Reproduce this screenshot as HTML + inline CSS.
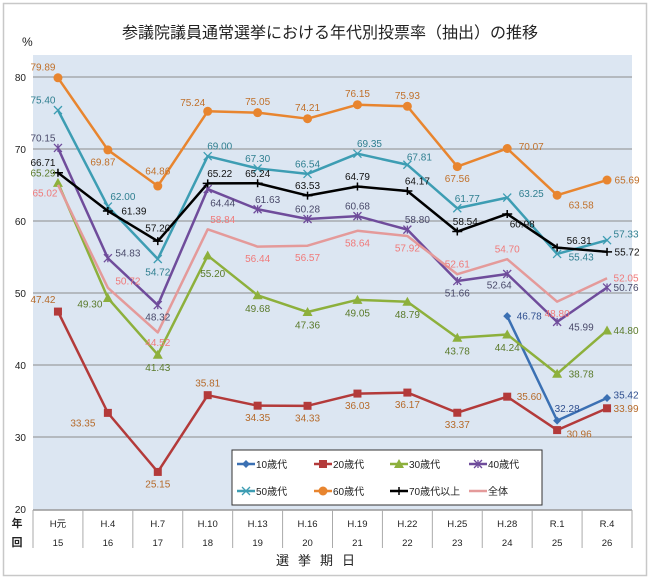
<!DOCTYPE html>
<html><head><meta charset="utf-8"><style>
body{margin:0;background:#fff;}
svg{display:block;font-family:"Liberation Sans","Noto Sans CJK JP",sans-serif;}
</style></head><body>
<svg id="chart" width="650" height="587" viewBox="0 0 650 587" xmlns="http://www.w3.org/2000/svg">
<rect x="3.5" y="3.5" width="643" height="572" fill="#fff" stroke="#c8c8c8" stroke-width="1.5"/>
<text x="330" y="38" font-size="16" text-anchor="middle" fill="#222">参議院議員通常選挙における年代別投票率（抽出）の推移</text>
<text x="22" y="46" font-size="12" fill="#222">%</text>
<rect x="33" y="55" width="599" height="455" fill="#dce6f2"/>
<g id="grid"></g>
<g id="xaxis"></g>
<g id="series"></g>
<g id="labels"></g>
<g id="legend">
<rect x="232" y="450" width="310" height="55" fill="#fff" stroke="#333" stroke-width="1"/>
</g>
<text x="320" y="565" font-size="13" text-anchor="middle" fill="#222" letter-spacing="9">選挙期日</text>
</svg>
<script>
const categories = ["H元","H.4","H.7","H.10","H.13","H.16","H.19","H.22","H.25","H.28","R.1","R.4"];
const sessions = ["15","16","17","18","19","20","21","22","23","24","25","26"];
const yTicks = [20,30,40,50,60,70,80];
const s10 = [null,null,null,null,null,null,null,null,null,46.78,32.28,35.42];
const s20 = [47.42,33.35,25.15,35.81,34.35,34.33,36.03,36.17,33.37,35.60,30.96,33.99];
const s30 = [65.29,49.30,41.43,55.20,49.68,47.36,49.05,48.79,43.78,44.24,38.78,44.80];
const s40 = [70.15,54.83,48.32,64.44,61.63,60.28,60.68,58.80,51.66,52.64,45.99,50.76];
const s50 = [75.40,62.00,54.72,69.00,67.30,66.54,69.35,67.81,61.77,63.25,55.43,57.33];
const s60 = [79.89,69.87,64.86,75.24,75.05,74.21,76.15,75.93,67.56,70.07,63.58,65.69];
const s70 = [66.71,61.39,57.20,65.22,65.24,63.53,64.79,64.17,58.54,60.98,56.31,55.72];
const sAll = [65.02,50.72,44.52,58.84,56.44,56.57,58.64,57.92,52.61,54.70,48.80,52.05];

const NS="http://www.w3.org/2000/svg";
const X0=33, XW=599, YTOP=77, YBOT=509, VMIN=20, VMAX=80;
const xs = i => X0 + XW/categories.length*(i+0.5);
const ys = v => YBOT - (v-VMIN)/(VMAX-VMIN)*(YBOT-YTOP);
function mk(tag, attrs, parent){const e=document.createElementNS(NS,tag);for(const k in attrs)e.setAttribute(k,attrs[k]);parent.appendChild(e);return e;}

const grid=document.getElementById('grid');
yTicks.forEach(t=>{
  if(t>VMIN){const l=mk('line',{x1:X0,x2:X0+XW,y1:ys(t),y2:ys(t),stroke:'#8c8c8c','stroke-width':1},grid);
  
  }
  const tx=mk('text',{x:26,y:ys(t)+4,'font-size':10,'text-anchor':'end',fill:'#222'},grid);
  tx.textContent=t;
  
  
});
const xa=document.getElementById('xaxis');
const base=mk('line',{x1:X0,x2:X0+XW,y1:510,y2:510,stroke:'#999','stroke-width':1.5},xa);


for(let i=0;i<=categories.length;i++){
  const x=X0+XW/categories.length*i;
  const l=mk('line',{x1:x,x2:x,y1:510,y2:548,stroke:'#aaa','stroke-width':1},xa);
  
  
}
categories.forEach((c,i)=>{
  const t=mk('text',{x:xs(i),y:527,'font-size':9.5,'text-anchor':'middle',fill:'#222'},xa);t.textContent=c;
  
  
  const t2=mk('text',{x:xs(i),y:546,'font-size':9.5,'text-anchor':'middle',fill:'#222'},xa);t2.textContent=sessions[i];
  
  
});
[['年',527],['回',546]].forEach(([s,y])=>{const t=mk('text',{x:17,y:y,'font-size':11,'font-weight':'bold','text-anchor':'middle',fill:'#222'},xa);t.textContent=s;
 
 });

const seriesDefs=[
 {name:'10歳代',data:s10,color:'#3b70b3',lc:'#2f4f8f',m:'diamond',off:[[0,0],[0,0],[0,0],[0,0],[0,0],[0,0],[0,0],[0,0],[0,0],[22,0],[10,-12],[19,-3]]},
 {name:'20歳代',data:s20,color:'#b33a3a',lc:'#b56a2a',m:'square',off:[[-15,-12],[-25,10],[0,12],[0,-12],[0,12],[0,12],[0,12],[0,12],[0,12],[22,0],[22,4],[19,0]]},
 {name:'30歳代',data:s30,color:'#8db03c',lc:'#5a7a2a',m:'triangle',off:[[-15,-10],[-18,6],[0,13],[5,18],[0,13],[0,13],[0,13],[0,13],[0,13],[0,13],[24,0],[19,0]]},
 {name:'40歳代',data:s40,color:'#6f4c9b',lc:'#4a4a6a',m:'star',off:[[-15,-10],[20,-5],[0,12],[15,14],[10,-10],[0,-10],[0,-10],[10,-10],[0,12],[-8,11],[24,5],[19,0]]},
 {name:'50歳代',data:s50,color:'#3d9db3',lc:'#2f7f90',m:'x',off:[[-15,-10],[15,-10],[0,13],[12,-10],[0,-10],[0,-10],[12,-10],[12,-8],[10,-10],[24,-4],[24,3],[19,-6]]},
 {name:'60歳代',data:s60,color:'#e8852f',lc:'#c0702a',m:'circle',off:[[-15,-11],[-5,12],[0,-15],[-15,-9],[0,-11],[0,-11],[0,-11],[0,-11],[0,12],[24,-2],[24,10],[20,0]]},
 {name:'70歳代以上',data:s70,color:'#000000',lc:'#111',m:'plus',off:[[-15,-10],[26,0],[0,-13],[12,-10],[0,-10],[0,-10],[0,-10],[10,-10],[8,-10],[15,10],[22,-7],[20,0]]},
 {name:'全体',data:sAll,color:'#e49a9a',lc:'#f07a7a',m:'none',off:[[-13,8],[20,-7],[0,10],[15,-10],[0,12],[0,12],[0,12],[0,12],[0,-10],[0,-10],[0,12],[19,0]]}
];
function marker(type,x,y,color,g){
  let e;
  if(type==='diamond')e=mk('path',{d:`M${x} ${y-4}L${x+4} ${y}L${x} ${y+4}L${x-4} ${y}Z`,fill:color},g);
  else if(type==='square')e=mk('rect',{x:x-4,y:y-4,width:8,height:8,fill:color},g);
  else if(type==='triangle')e=mk('path',{d:`M${x} ${y-5}L${x+5} ${y+4}L${x-5} ${y+4}Z`,fill:color},g);
  else if(type==='circle')e=mk('circle',{cx:x,cy:y,r:4.5,fill:color},g);
  else if(type==='x')e=mk('path',{d:`M${x-4} ${y-4}L${x+4} ${y+4}M${x-4} ${y+4}L${x+4} ${y-4}`,stroke:color,'stroke-width':1.3},g);
  else if(type==='star')e=mk('path',{d:`M${x-4} ${y-4}L${x+4} ${y+4}M${x-4} ${y+4}L${x+4} ${y-4}M${x} ${y-4}L${x} ${y+4}`,stroke:color,'stroke-width':1.3},g);
  else if(type==='plus')e=mk('path',{d:`M${x-5} ${y}L${x+5} ${y}M${x} ${y-4}L${x} ${y+4}`,stroke:color,'stroke-width':1.5},g);
  if(e){
  }
}
const sg=document.getElementById('series'), lg=document.getElementById('labels');
seriesDefs.forEach((s,si)=>{
  const g=mk('g',{},sg);
  
  
  let d='';let started=false;
  s.data.forEach((v,i)=>{if(v==null){started=false;return;}d+=(started?'L':'M')+xs(i)+' '+ys(v);started=true;});
  const p=mk('path',{d:d,fill:'none',stroke:s.color,'stroke-width':2.5,'stroke-linejoin':'round'},g);
  
  
  s.data.forEach((v,i)=>{if(v==null)return;marker(s.m,xs(i),ys(v),s.color,g);
    const o=s.off[i];
    const t=mk('text',{x:xs(i)+o[0],y:ys(v)+o[1]+3.5,'font-size':10,'text-anchor':'middle',fill:s.lc},lg);
    t.textContent=v.toFixed(2);
    
    
  });
});
const leg=document.getElementById('legend');
const lx=[237,314,390,469], ly=[464,491];
seriesDefs.forEach((s,i)=>{
  const x=lx[i%4], y=ly[Math.floor(i/4)];
  const g=mk('g',{},leg);
  
  
  const l=mk('line',{x1:x,x2:x+18,y1:y,y2:y,stroke:s.color,'stroke-width':2.5},g);
  
  
  marker(s.m,x+9,y,s.color,g);
  const t=mk('text',{x:x+19,y:y+4,'font-size':10,fill:'#222'},g);t.textContent=s.name;
  
  
});
</script>
</body></html>
